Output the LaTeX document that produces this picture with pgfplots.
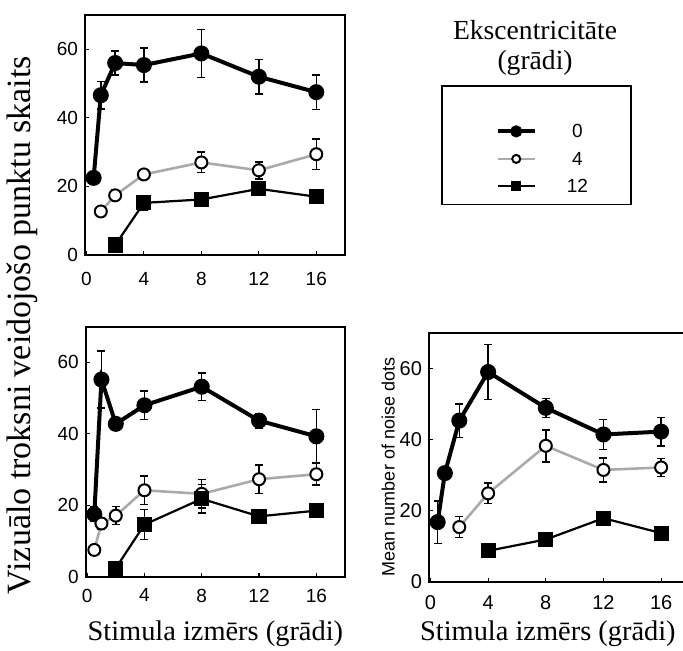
\documentclass[border=0pt]{standalone}
\usepackage{fontspec}
\setmainfont{Liberation Serif}
\newfontfamily\arial{Liberation Sans}
\usepackage{graphicx}
\usepackage{pgfplots}
\usepackage{pgfplotstable}
\pgfplotsset{compat=1.18}

\definecolor{grayline}{RGB}{170,170,170}

% columns: stimulus size (deg), mean noise dots, error
% top left panel
\pgfplotstableread{
x y e
0.5 22.5 1
1 46.6 4
2 56 3.5
4 55.4 5
8 58.8 7
12 52 5
16 47.5 5
}\tlA
\pgfplotstableread{
x y e
1 12.7 1
2 17.4 1.5
4 23.5 1
8 27 3
12 24.7 2.5
16 29.4 4.5
}\tlB
\pgfplotstableread{
x y e
2 2.9 0
4 15.2 2
8 16.2 0.8
12 19.3 1.5
16 17 1
}\tlC
% bottom left panel
\pgfplotstableread{
x y e
0.5 17.5 2
1 55.2 8
2 42.8 1
4 48 4
8 53.2 3.8
12 43.7 2
16 39.3 7.5
}\blA
\pgfplotstableread{
x y e
0.5 7.5 1.5
1 14.9 1.5
2 17.1 2.5
4 24.2 4
8 23.2 4
12 27.3 4
16 28.7 3
}\blB
\pgfplotstableread{
x y e
2 2.4 0
4 14.6 4.2
8 21.8 4
12 16.9 0.5
16 18.5 1.5
}\blC
% bottom right panel
\pgfplotstableread{
x y e
0.5 16.8 6
1 30.6 0
2 45.4 4.7
4 59.1 7.8
8 49 2.7
12 41.5 4.2
16 42.3 4
}\brA
\pgfplotstableread{
x y e
2 15.4 3
4 24.9 2.9
8 38.3 4.5
12 31.5 3.4
16 32.2 2.5
}\brB
\pgfplotstableread{
x y e
4 8.7 0
8 11.9 1.5
12 17.9 0.5
16 13.7 0.5
}\brC

\pgfplotsset{
  panel/.style={
    scale only axis,
    xmin=-0.1, xmax=18, ymin=0, ymax=70,
    xtick={0,4,8,12,16}, ytick={0,20,40,60},
    tick pos=left, tick align=inside, major tick length=2pt,
    axis line style={line width=1pt},
    tick style={line width=0.6pt, black},
    clip=false,
    /pgf/number format/assume math mode=true,
    ticklabel style={font=\arial\fontsize{9.5}{10}\selectfont},
    error bars/y dir=both, error bars/y explicit,
    error bars/error mark=|,
    error bars/error bar style={line width=0.75pt, black},
    error bars/error mark options={mark size=2pt, line width=0.75pt, black},
  },
  ecc0/.style={black, line width=2pt, mark=*, mark size=3pt},
  ecc4/.style={grayline, line width=1.3pt, mark=*, mark size=3pt,
    mark options={draw=black, fill=white, line width=1pt}},
  ecc12/.style={black, line width=1.1pt, mark=square*, mark size=3.25pt},
}

\begin{document}
\begin{tikzpicture}

% top left
\begin{axis}[panel,
  at={(42.5pt,197.5pt)}, anchor=south west,
  width=130pt, height=120pt,
  xticklabel style={yshift=-5pt},
  legend style={at={(1.369,0.708)}, anchor=north west,
    draw=black, fill=white, line width=0.8pt,
    inner xsep=19.5pt, inner ysep=3.75pt,
    column sep=13pt, row sep=3.25pt,
    cells={anchor=center},
    nodes={inner sep=2pt, text height=6.5pt, text depth=0pt,
      font=\arial\fontsize{9.5}{10}\selectfont}},
  legend image code/.code={
    \path (-7.5pt,0pt);
    \draw[mark repeat=2, mark phase=2, #1, mark size=2pt]
      plot coordinates {(0pt,0pt) (9.25pt,0pt) (18.5pt,0pt)};},
]
\addlegendimage{empty legend}
\addlegendentry{\phantom{0}}
\addplot[ecc0] table[x=x, y=y, y error=e] {\tlA};
\addlegendentry{0}
\addplot[ecc4] table[x=x, y=y, y error=e] {\tlB};
\addlegendentry{4}
\addplot[ecc12] table[x=x, y=y, y error=e] {\tlC};
\addlegendentry{12}
\node[align=center, font=\fontsize{13.8}{15}\selectfont]
  at (axis description cs:1.731,0.8625) {Ekscentricitāte\\(grādi)};
\end{axis}

% bottom left
\begin{axis}[panel,
  at={(42.85pt,36.65pt)}, anchor=south west,
  width=129.65pt, height=125pt,
  xticklabel style={yshift=-2.5pt},
  xlabel={Stimula izmērs (grādi)},
  xlabel style={at={(axis description cs:0.5,-0.229)}, anchor=center,
    font=\fontsize{14.2}{15}\selectfont},
  ylabel={Vizuālo troksni veidojošo punktu skaits},
  ylabel style={at={(axis description cs:-0.2457,1.007)}, anchor=center,
    font=\fontsize{17}{18}\selectfont},
]
\addplot[ecc0] table[x=x, y=y, y error=e] {\blA};
\addplot[ecc4] table[x=x, y=y, y error=e] {\blB};
\addplot[ecc12] table[x=x, y=y, y error=e] {\blC};
\end{axis}

% bottom right
\begin{axis}[panel,
  at={(214.5pt,34.15pt)}, anchor=south west,
  width=131.2pt, height=124.2pt,
  xmax=18.1,
  ticklabel style={font=\arial\fontsize{10}{11}\selectfont},
  xticklabel style={yshift=-3.3pt},
  xlabel={Stimula izmērs (grādi)},
  xlabel style={at={(axis description cs:0.453,-0.2106)}, anchor=center,
    font=\fontsize{14.2}{15}\selectfont},
  ylabel={Mean number of noise dots},
  ylabel style={at={(axis description cs:-0.156,0.462)}, anchor=center,
    font=\arial\fontsize{9}{10}\selectfont},
]
\addplot[ecc0] table[x=x, y=y, y error=e] {\brA};
\addplot[ecc4] table[x=x, y=y, y error=e] {\brB};
\addplot[ecc12] table[x=x, y=y, y error=e] {\brC};
\end{axis}

\pgfresetboundingbox
\path[use as bounding box] (0pt,0pt) rectangle (341.5pt,325pt);
\end{tikzpicture}
\end{document}
